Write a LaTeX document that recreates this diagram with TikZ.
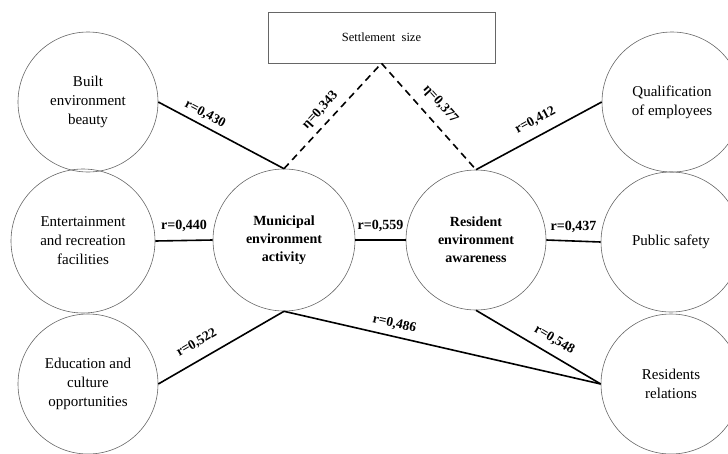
\documentclass[tikz,border=0pt]{standalone}
\usepackage{fontspec}
\setmainfont{Liberation Serif}
\tikzset{
  factor/.style={circle, draw=black!60, line width=0.6pt, minimum size=140pt, inner sep=0pt, align=center, font=\fontsize{15}{19}\selectfont},
  core/.style={factor, font=\fontsize{14}{18}\selectfont\bfseries},
  link/.style={line width=1.6pt},
  etalink/.style={line width=1.6pt, dash pattern=on 7pt off 5pt},
  coef/.style={font=\fontsize{13.5}{16}\selectfont\bfseries, inner sep=1pt},
}

\begin{document}
\begin{tikzpicture}[x=1pt, y=-1pt]
			%%%%% START %%%%%
			\clip (0, 0) rectangle (728, 453);
			
			\node[draw=black!60, line width=0.6pt, minimum width=227pt, minimum height=51pt, font=\fontsize{12.5}{15}\selectfont] (size) at (381.5, 37.5) {Settlement\ \ size};
			
			\node[factor] (beauty) at (88, 102) {Built\\environment\\beauty};
			\node[factor, minimum size=144pt] (leisure) at (83, 241) {Entertainment\\and recreation\\facilities};
			\node[factor] (culture) at (88, 384) {Education and\\culture\\opportunities};
			
			\node[core, minimum size=142pt] (mun) at (284, 240) {Municipal\\environment\\activity};
			\node[core] (res) at (476, 240) {Resident\\environment\\awareness};
			
			\node[factor] (staff) at (672, 102) {Qualification\\of employees};
			\node[factor] (safety) at (671, 242) {Public safety};
			\node[factor] (rel) at (671, 384) {Residents\\relations};
			
			% settlement size
			\draw[etalink] (mun.north) -- node[coef, sloped, above=5pt, pos=0.47] {η=0,343} (size.south);
			\draw[etalink] (size.south) -- node[coef, sloped, above=9pt, pos=0.49] {η=0,377} (res.north);
			
			% municipal side
			\draw[link] (beauty.east) -- node[coef, sloped, above=4pt, pos=0.33] {r=0,430} (mun.north);
			\draw[link] (leisure.east) -- node[coef, font=\fontsize{14}{16}\selectfont\bfseries, above=7pt] {r=0,440} (mun.west);
			\draw[link] (culture.east) -- node[coef, sloped, above=9pt, pos=0.37] {r=0,522} (mun.south);
			\draw[link] (mun.south) -- node[coef, sloped, above=5pt, pos=0.34] {r=0,486} (rel.west);
			
			% between the two
			\draw[link] (mun.east) -- node[coef, font=\fontsize{14}{16}\selectfont\bfseries, above=7pt] {r=0,559} (res.west);
			
			% resident side
			\draw[link] (res.north) -- node[coef, sloped, above=8pt, pos=0.53] {r=0,412} (staff.west);
			\draw[link] (res.east) -- node[coef, font=\fontsize{14}{16}\selectfont\bfseries, above=7pt] {r=0,437} (safety.west);
			\draw[link] (res.south) -- node[coef, sloped, above=7pt, pos=0.57] {r=0,548} (rel.west);
			
			%%%%% END %%%%%
\end{tikzpicture}
\end{document}
